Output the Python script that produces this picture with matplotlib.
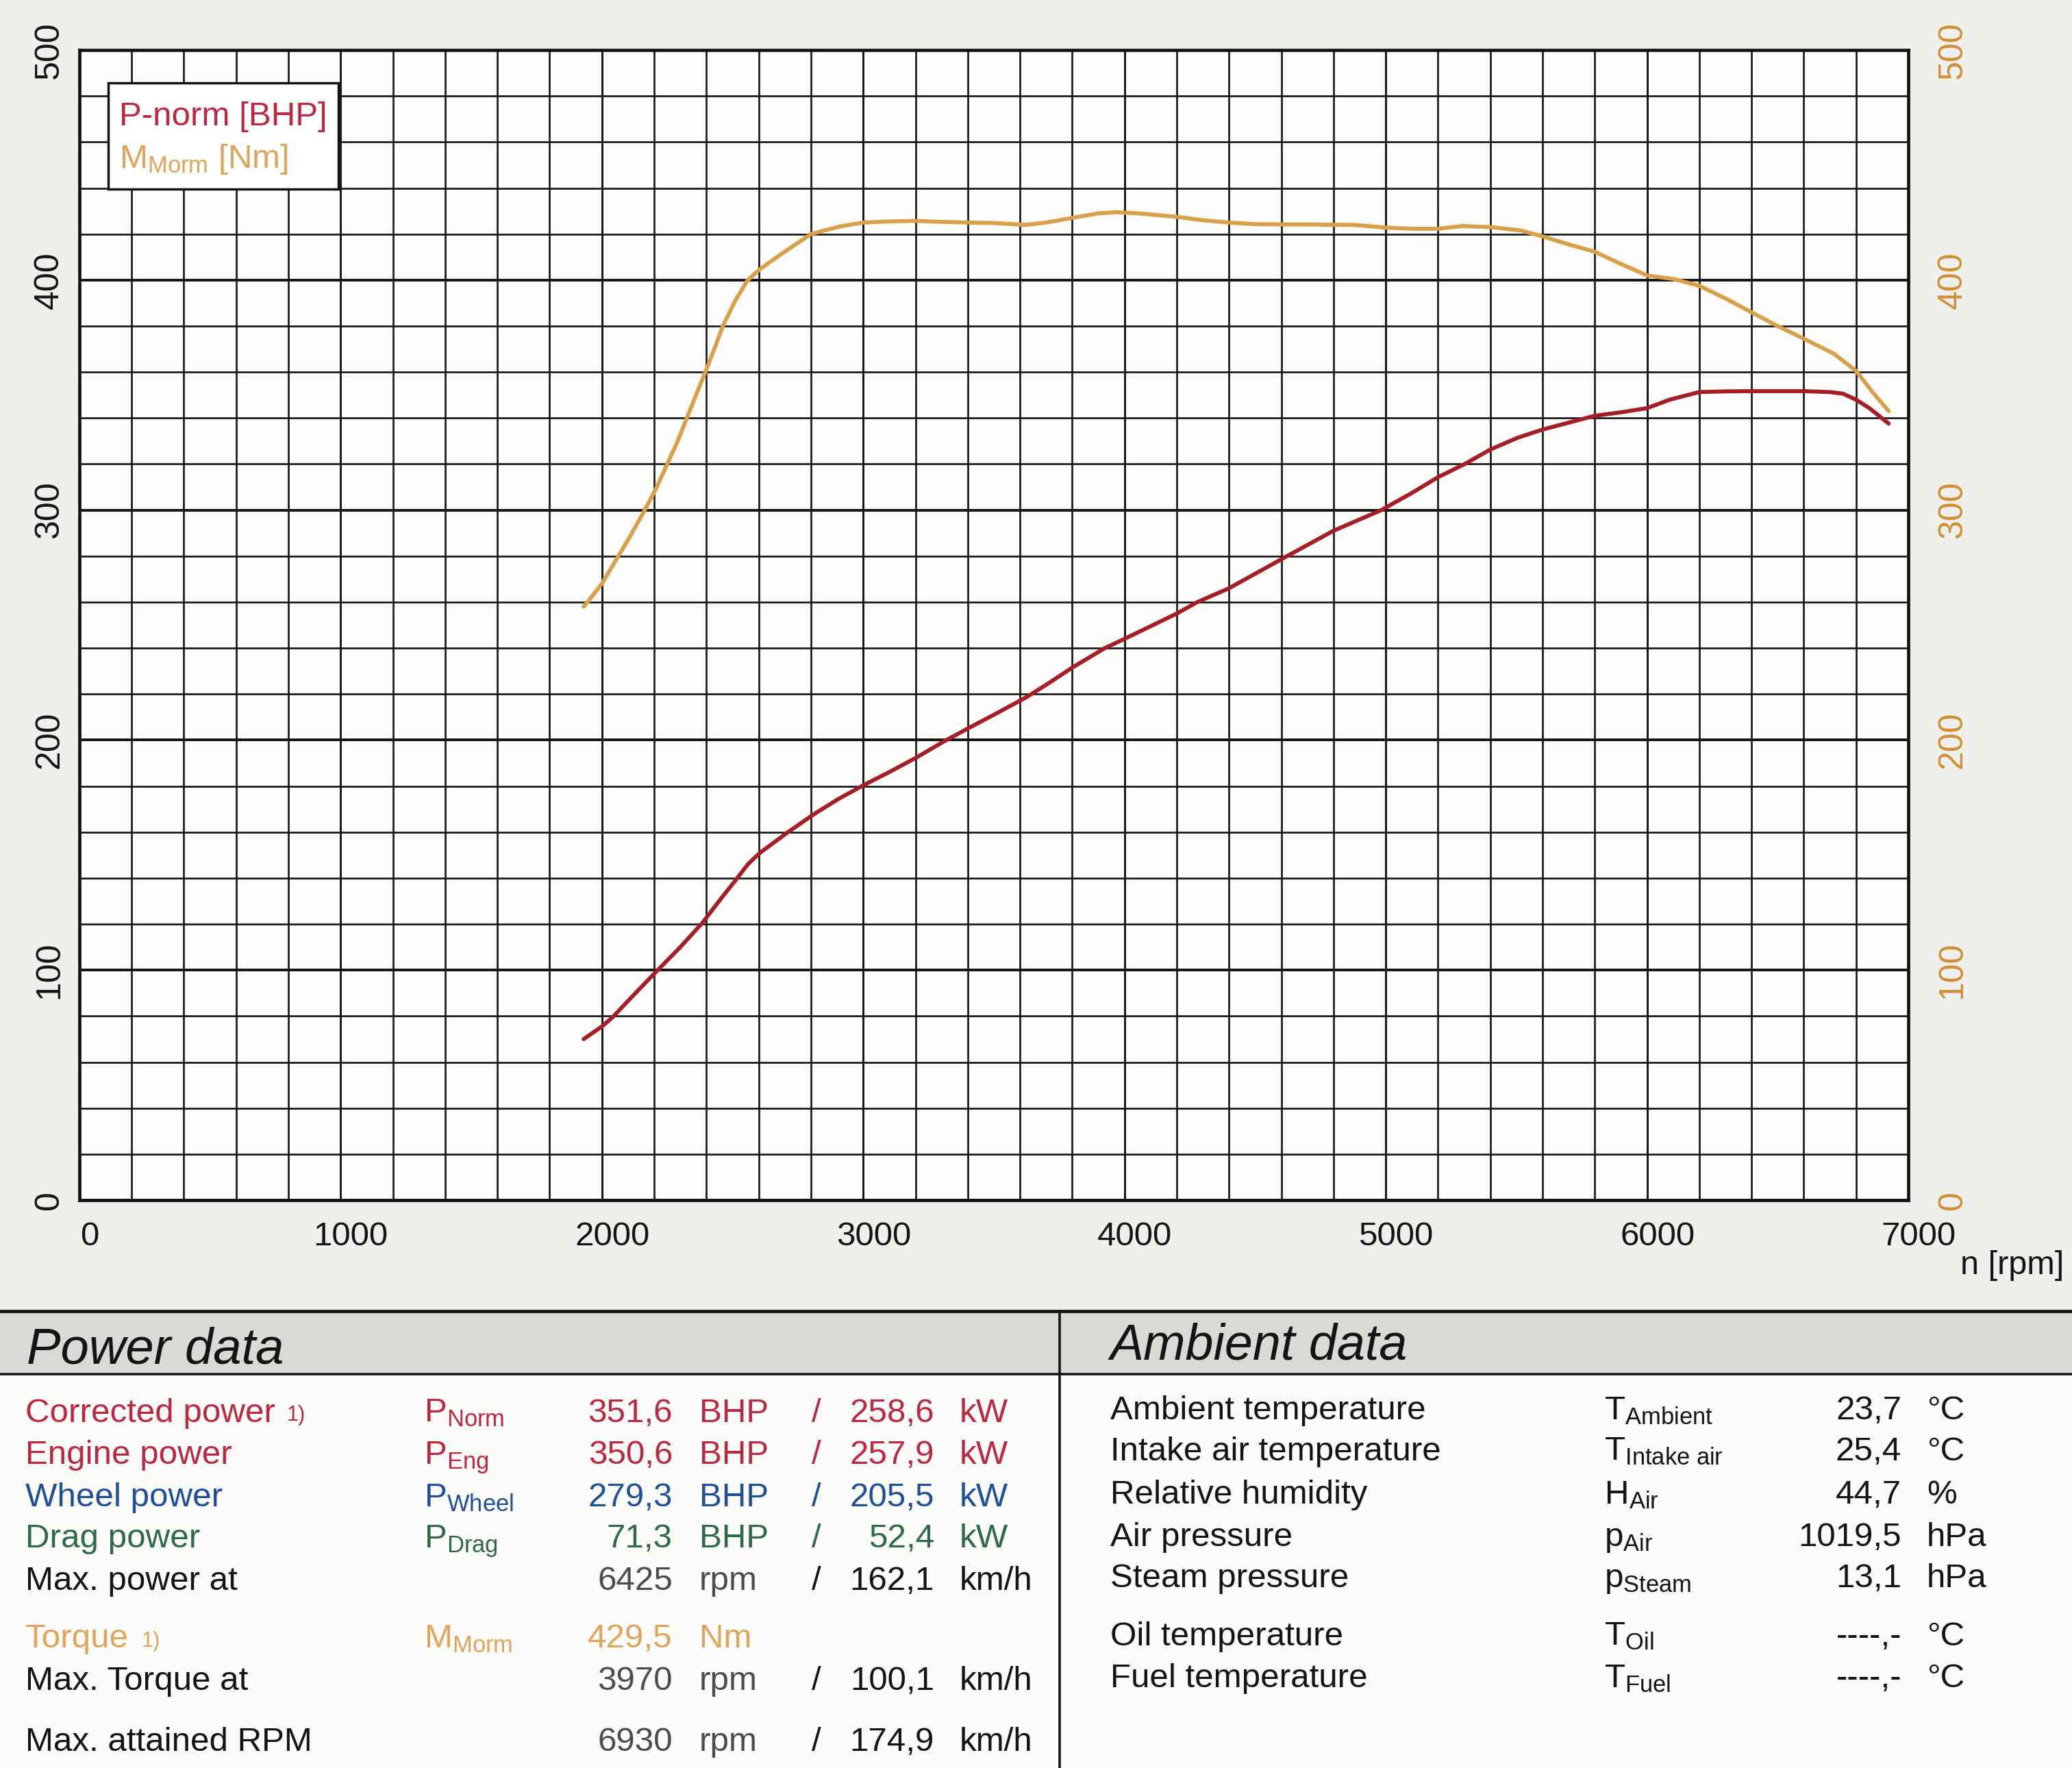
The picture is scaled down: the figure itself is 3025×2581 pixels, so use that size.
import matplotlib
matplotlib.use("Agg")
import matplotlib.pyplot as plt
import matplotlib.transforms as mtransforms
from matplotlib.lines import Line2D
from matplotlib.patches import Rectangle
from matplotlib.ticker import MultipleLocator

plt.rcParams['font.family'] = ['Liberation Sans', 'DejaVu Sans']
plt.rcParams['mathtext.fontset'] = 'custom'
plt.rcParams['mathtext.rm'] = 'Liberation Sans'
plt.rcParams['mathtext.it'] = 'Liberation Sans:italic'
plt.rcParams['mathtext.bf'] = 'Liberation Sans:bold'

# ---------------- data ----------------
power_rpm = [1930, 2000, 2040, 2120, 2205, 2300, 2385, 2460, 2516, 2560, 2605, 2710,
             2805, 2905, 3005, 3105, 3205, 3310, 3400, 3500, 3624, 3700, 3800, 3925,
             4000, 4200, 4279, 4400, 4600, 4800, 4983, 5101, 5200, 5302, 5400, 5504,
             5600, 5800, 5900, 6000, 6087, 6200, 6300, 6400, 6500, 6600, 6700, 6750,
             6800, 6850, 6925]
power_bhp = [70.0, 75.5, 79.4, 89.0, 99.0, 110.0, 120.6, 131.7, 139.7, 146.2, 151.0, 159.8,
             167.3, 174.4, 180.6, 186.4, 192.5, 199.5, 205.0, 211.0, 218.6, 224.0, 231.5, 240.0,
             244.0, 255.0, 260.0, 266.0, 278.6, 291.0, 300.0, 307.5, 314.3, 320.0, 326.3, 331.4,
             335.0, 341.0, 342.5, 344.3, 348.0, 351.3, 351.6, 351.7, 351.7, 351.7, 351.3, 350.6,
             348.0, 344.4, 337.6]

torque_rpm = [1930, 1952, 2000, 2063, 2110, 2164, 2210, 2250, 2290, 2325, 2360, 2396,
              2430, 2463, 2510, 2558, 2608, 2689, 2800, 2911, 3000, 3100, 3200, 3300,
              3400, 3500, 3620, 3700, 3800, 3900, 3970, 4050, 4200, 4300, 4400, 4500,
              4600, 4700, 4800, 4875, 5000, 5100, 5200, 5295, 5400, 5515, 5600, 5700,
              5800, 5900, 6000, 6100, 6200, 6300, 6400, 6500, 6600, 6715, 6800, 6865,
              6925]
torque_nm = [258.0, 261.0, 268.0, 280.0, 289.0, 300.0, 310.0, 320.0, 330.0, 340.0, 350.0, 360.0,
             370.0, 380.0, 391.0, 400.0, 405.0, 411.5, 420.0, 423.3, 425.0, 425.5, 425.7, 425.3,
             425.0, 424.8, 424.0, 425.0, 427.0, 429.0, 429.5, 429.0, 427.5, 426.0, 425.0, 424.3,
             424.2, 424.2, 424.0, 424.0, 422.8, 422.3, 422.3, 423.5, 423.0, 421.6, 419.0, 415.5,
             412.3, 407.0, 402.0, 400.5, 397.5, 392.0, 386.0, 380.0, 374.5, 368.0, 360.5, 351.0,
             343.0]

x_ticks = [0, 1000, 2000, 3000, 4000, 5000, 6000, 7000]
y_ticks = [0, 100, 200, 300, 400, 500]
legend_labels = ['P-norm [BHP]', r'M$_{\mathregular{Morm}}$ [Nm]']
x_label = 'n [rpm]'

power_header = 'Power data'
power_labels = ['Corrected power', 'Engine power', 'Wheel power', 'Drag power',
                'Max. power at', 'Torque', 'Max. Torque at', 'Max. attained RPM']
power_notes = ['1)', '', '', '', '', '1)', '', '']
power_symbols = ['P', 'P', 'P', 'P', '', 'M', '', '']
power_subs = ['Norm', 'Eng', 'Wheel', 'Drag', '', 'Morm', '', '']
power_val1 = ['351,6', '350,6', '279,3', '71,3', '6425', '429,5', '3970', '6930']
power_unit1 = ['BHP', 'BHP', 'BHP', 'BHP', 'rpm', 'Nm', 'rpm', 'rpm']
power_val2 = ['258,6', '257,9', '205,5', '52,4', '162,1', '', '100,1', '174,9']
power_unit2 = ['kW', 'kW', 'kW', 'kW', 'km/h', '', 'km/h', 'km/h']

ambient_header = 'Ambient data'
ambient_labels = ['Ambient temperature', 'Intake air temperature', 'Relative humidity',
                  'Air pressure', 'Steam pressure', 'Oil temperature', 'Fuel temperature']
ambient_symbols = ['T', 'T', 'H', 'p', 'p', 'T', 'T']
ambient_subs = ['Ambient', 'Intake\\ air', 'Air', 'Air', 'Steam', 'Oil', 'Fuel']
ambient_values = ['23,7', '25,4', '44,7', '1019,5', '13,1', '----,-', '----,-']
ambient_units = ['°C', '°C', '%', 'hPa', 'hPa', '°C', '°C']

# ---------------- styles ----------------
RED_LINE = '#a51e27'
ORANGE_LINE = '#d8a04a'
RED_TXT = '#bb283f'
ORANGE_TXT = '#e2a35a'
ORANGE_TICK = '#cf8f35'
BLUE_TXT = '#1f4f98'
GREEN_TXT = '#2f6a47'
BLACK = '#141414'
GRAY = '#4c4c4c'

W, H, DPI = 3025, 2581, 100
fig = plt.figure(figsize=(W / DPI, H / DPI), dpi=DPI, facecolor='#efefeb')


def F(x, y):
    """layout position given in 1568x1338 reference-preview pixels -> figure fraction"""
    return x / 1568.0, 1.0 - y / 1338.0


# ---------------- chart ----------------
ax = fig.add_axes([0.0383, 0.3212, 0.8827, 0.6505])
ax.set_facecolor('#fcfcfa')
ax.set_xlim(0, 7000)
ax.set_ylim(0, 500)
ax.set_xticks(x_ticks)
ax.set_yticks(y_ticks)
ax.xaxis.set_minor_locator(MultipleLocator(200))
ax.yaxis.set_minor_locator(MultipleLocator(20))
ax.set_axisbelow(True)
ax.grid(which='minor', color=BLACK, lw=1.9)
ax.grid(which='major', axis='x', color=BLACK, lw=2.1)
ax.grid(which='major', axis='y', color=BLACK, lw=2.8)
for sp in ax.spines.values():
    sp.set_linewidth(3.4)
    sp.set_color(BLACK)
ax.tick_params(which='both', length=0)
ax.tick_params(axis='x', labelsize=35.5, pad=22, labelcolor=BLACK)
ax.tick_params(axis='y', labelsize=36, pad=15, labelcolor=BLACK, labelrotation=90)
for lab in ax.get_yticklabels():
    lab.set_va('center')
x_shift = mtransforms.ScaledTranslation(15 / DPI, 0, fig.dpi_scale_trans)
for lab in ax.get_xticklabels():
    lab.set_transform(lab.get_transform() + x_shift)

l_power, = ax.plot(power_rpm, power_bhp, color=RED_LINE, lw=4.2,
                   solid_capstyle='round', solid_joinstyle='round')

ax2 = ax.twinx()
ax2.set_ylim(0, 500)
ax2.set_yticks(y_ticks)
ax2.tick_params(which='both', length=0)
ax2.tick_params(axis='y', labelsize=36, pad=30, labelcolor=ORANGE_TICK, labelrotation=90)
for lab in ax2.get_yticklabels():
    lab.set_va('center')
for sp in ax2.spines.values():
    sp.set_visible(False)
l_torque, = ax2.plot(torque_rpm, torque_nm, color=ORANGE_LINE, lw=4.2,
                     solid_capstyle='round', solid_joinstyle='round')

# legend box (frame drawn separately so its padding can match the sheet)
bx0, bx1 = (82 - 60) / 1384, (256 - 60) / 1384
by0, by1 = (908 - 143) / 870, (908 - 63) / 870
ax2.add_patch(Rectangle((bx0, by0), bx1 - bx0, by1 - by0, transform=ax2.transAxes,
                        facecolor='white', edgecolor=BLACK, lw=2.5, zorder=4))
leg = ax2.legend([l_power, l_torque], legend_labels, loc='upper left',
                 bbox_to_anchor=((90 - 60) / 1384, (908 - 77) / 870), borderaxespad=0,
                 handlelength=0, handletextpad=0, fontsize=35.5,
                 frameon=False, borderpad=0, labelspacing=0.3,
                 labelcolor=[RED_TXT, ORANGE_TXT])
leg.set_zorder(5)

fig.text(*F(1562, 958), x_label, ha='right', va='center', fontsize=35, color=BLACK)

# ---------------- data tables ----------------
fig.add_artist(Rectangle((0, 0), 1, 1 - 992 / 1338, transform=fig.transFigure,
                         facecolor='#fbfbfa', edgecolor='none', zorder=0))
band_y0 = 1 - 1040 / 1338
fig.add_artist(Rectangle((0, band_y0), 1, (1040 - 992) / 1338, transform=fig.transFigure,
                         facecolor='#d9d9d5', edgecolor='none', zorder=0))
fig.add_artist(Line2D([0, 1], [F(0, 992)[1]] * 2, color=BLACK, lw=3.4))
fig.add_artist(Line2D([0, 1], [F(0, 1040)[1]] * 2, color=BLACK, lw=2.6))
fig.add_artist(Line2D([F(802, 0)[0]] * 2, [F(0, 992)[1], 0], color=BLACK, lw=2.6))

fig.text(*F(20, 1032), power_header, ha='left', va='baseline', fontsize=53.5,
         style='italic', color=BLACK)
fig.text(*F(840, 1029), ambient_header, ha='left', va='baseline', fontsize=53,
         style='italic', color=BLACK)

FS = 35.5
power_base = [1076, 1108, 1140, 1171, 1203, 1247, 1279, 1325]
label_colors = [RED_TXT, RED_TXT, BLUE_TXT, GREEN_TXT, BLACK, ORANGE_TXT, BLACK, BLACK]
val1_colors = [RED_TXT, RED_TXT, BLUE_TXT, GREEN_TXT, GRAY, ORANGE_TXT, GRAY, GRAY]
val2_colors = [RED_TXT, RED_TXT, BLUE_TXT, GREEN_TXT, BLACK, ORANGE_TXT, BLACK, BLACK]
note_x = [217, None, None, None, None, 107, None, None]

for i, y in enumerate(power_base):
    fig.text(*F(19, y), power_labels[i], ha='left', va='baseline', fontsize=FS,
             color=label_colors[i])
    if power_notes[i]:
        fig.text(*F(note_x[i], y - 1), power_notes[i], ha='left', va='baseline',
                 fontsize=22, color=label_colors[i])
    if power_symbols[i]:
        sym = power_symbols[i] + r'$_{\mathregular{' + power_subs[i] + '}}$'
        fig.text(*F(321, y), sym, ha='left', va='baseline', fontsize=FS,
                 color=label_colors[i])
    fig.text(*F(509, y), power_val1[i], ha='right', va='baseline', fontsize=FS,
             color=val1_colors[i])
    fig.text(*F(529, y), power_unit1[i], ha='left', va='baseline', fontsize=FS,
             color=val1_colors[i])
    if power_val2[i]:
        fig.text(*F(618, y), '/', ha='center', va='baseline', fontsize=FS,
                 color=val2_colors[i])
        fig.text(*F(707, y), power_val2[i], ha='right', va='baseline', fontsize=FS,
                 color=val2_colors[i])
        fig.text(*F(726, y), power_unit2[i], ha='left', va='baseline', fontsize=FS,
                 color=val2_colors[i])

ambient_base = [1074, 1105, 1138, 1170, 1201, 1245, 1277]
for i, y in enumerate(ambient_base):
    fig.text(*F(840, y), ambient_labels[i], ha='left', va='baseline', fontsize=FS,
             color=BLACK)
    sym = ambient_symbols[i] + r'$_{\mathregular{' + ambient_subs[i] + '}}$'
    fig.text(*F(1214, y), sym, ha='left', va='baseline', fontsize=FS, color=BLACK)
    fig.text(*F(1439, y), ambient_values[i], ha='right', va='baseline', fontsize=FS,
             color=BLACK)
    fig.text(*F(1458, y), ambient_units[i], ha='left', va='baseline', fontsize=FS,
             color=BLACK)

fig.savefig('out.png', dpi=DPI, facecolor=fig.get_facecolor())
